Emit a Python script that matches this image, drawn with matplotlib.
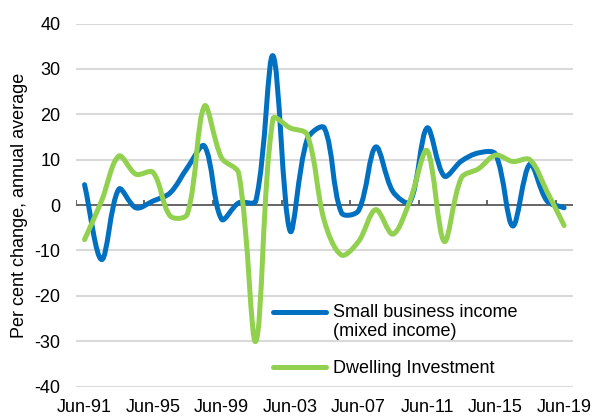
import numpy as np
import matplotlib
matplotlib.use('Agg')
import matplotlib.pyplot as plt
from matplotlib.path import Path
from matplotlib.patches import PathPatch
from matplotlib.lines import Line2D
from matplotlib.legend_handler import HandlerLine2D

plt.rcParams['font.family'] = ['Liberation Sans', 'DejaVu Sans']
plt.rcParams['axes.unicode_minus'] = False

years = list(range(1991, 2020))
small_business = [4.5, -12, 3.5, -0.6, 0.9, 2.7, 8.2, 13, -3.1, 0.5, 0.9, 32.9, -5.7, 14.5,
                  17, -1.7, -1.2, 12.8, 3, 0.7, 17, 6.4, 9.7, 11.5, 11.2, -4.6, 9, 0.9, -0.6]
dwelling = [-7.6, 1, 10.8, 6.8, 7.2, -2.4, -2, 21.8, 10.4, 7, -30, 19, 17, 15.5,
            -3.5, -11, -8, -1, -6.4, 1, 12, -8, 6, 8, 11, 9.6, 10, 3, -4.5]
tick_labels = ['Jun-91', 'Jun-95', 'Jun-99', 'Jun-03', 'Jun-07', 'Jun-11', 'Jun-15', 'Jun-19']

BLUE = '#0070c0'
GREEN = '#92d050'
PX_X, PX_Y = 17.13, 4.54  # pixels per x unit / y unit, for chord lengths


def smooth_path(x, y):
    # smoothed line like Excel: bezier segments, tangents weighted by chord length
    pts = np.column_stack([x, y]).astype(float)
    ext = np.vstack([pts[0], pts, pts[-1]])
    scale = np.array([PX_X, PX_Y])

    def dist(a, b):
        return np.hypot(*((b - a) * scale)) + 1e-9

    verts = [pts[0]]
    codes = [Path.MOVETO]
    for i in range(len(pts) - 1):
        p0, p1, p2, p3 = ext[i], ext[i + 1], ext[i + 2], ext[i + 3]
        d01, d12, d23 = dist(p0, p1), dist(p1, p2), dist(p2, p3)
        c1 = p1 + (p2 - p0) * d12 / (d01 + d12) / 3
        c2 = p2 - (p3 - p1) * d12 / (d12 + d23) / 3
        verts += [c1, c2, p2]
        codes += [Path.CURVE4] * 3
    return Path(verts, codes)


class UpperLine(HandlerLine2D):
    def create_artists(self, legend, orig_handle, xdescent, ydescent, width, height, fontsize, trans):
        arts = super().create_artists(legend, orig_handle, xdescent, ydescent, width, height, fontsize, trans)
        for a in arts:
            a.set_ydata(np.asarray(a.get_ydata()) + 0.6 * fontsize)
        return arts


fig = plt.figure(figsize=(5.95, 4.17), dpi=100)
ax = fig.add_axes([0.1277, 0.0727, 0.8348, 0.8709])

x = np.arange(len(years))
ax.set_xlim(-0.5, len(years) - 0.5)
ax.set_ylim(-40, 40)

for v in range(-40, 41, 10):
    if v != 0:
        ax.axhline(v, color='#d9d9d9', lw=1.5, zorder=0)
ax.axhline(0, color='#595959', lw=1.3, zorder=1)
ax.vlines(np.arange(-0.5, len(years), 4), 0, 1.1, color='#595959', lw=1.3, zorder=1)

ax.add_patch(PathPatch(smooth_path(x, small_business), facecolor='none', edgecolor=BLUE,
                       lw=3.6, capstyle='round', joinstyle='round', zorder=3))
ax.add_patch(PathPatch(smooth_path(x, dwelling), facecolor='none', edgecolor=GREEN,
                       lw=3.6, capstyle='round', joinstyle='round', zorder=4))

for s in ax.spines.values():
    s.set_visible(False)

ax.set_yticks(range(-40, 41, 10))
ax.set_xticks(x[::4])
ax.set_xticklabels(tick_labels)
ax.tick_params(axis='both', length=0, labelsize=13, colors='black')
ax.tick_params(axis='y', pad=11)
ax.tick_params(axis='x', pad=9)

ax.set_ylabel('Per cent change, annual average', fontsize=13)
ax.yaxis.set_label_coords(-0.097, 0.5)

h1 = Line2D([], [], color=BLUE, lw=3.6, solid_capstyle='round')
h2 = Line2D([], [], color=GREEN, lw=3.6, solid_capstyle='round')
ax.legend([h1, h2], ['Small business income\n(mixed income)', 'Dwelling Investment'],
          loc='upper left', bbox_to_anchor=(0.397, 0.228), frameon=False, fontsize=13,
          handlelength=2.9, handletextpad=0.4, labelspacing=1.1, borderpad=0,
          borderaxespad=0, handler_map={h1: UpperLine()})

fig.savefig('out.png', dpi=100)
